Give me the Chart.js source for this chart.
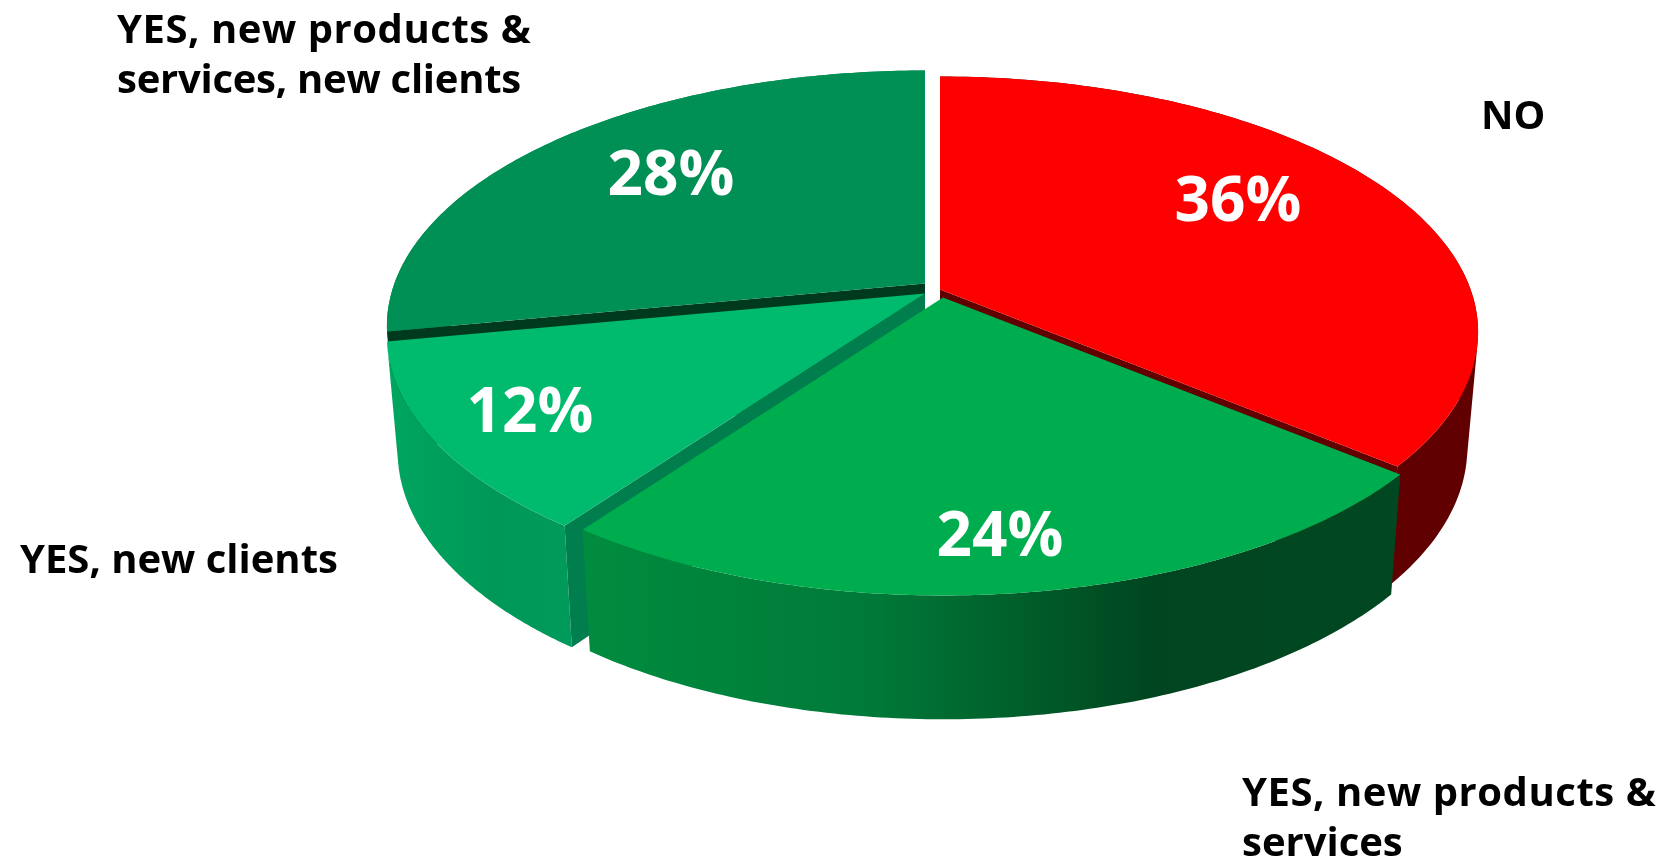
<!DOCTYPE html>
<html>
<head>
<meta charset="utf-8">
<title>Pie</title>
<script src="https://cdn.jsdelivr.net/npm/chart.js@4"></script>
<style>
  html, body { margin: 0; padding: 0; background: #fff; }
  canvas { display: block; }
</style>
</head>
<body>
<canvas id="pieChart" width="1665" height="861"></canvas>
<script>
// chart data
const categories = ['NO', 'YES, new products & services', 'YES, new clients', 'YES, new products & services, new clients'];
const shares = [36, 24, 12, 28];

// colours, same order as the data
const topColors = ['#ff0000', '#00ad4e', '#00bb6d', '#008f54'];
const wallColors = ['#600000', '#00ad4e', '#007e4d', '#003a1e'];
const sideStops = [
  [[0, '#600000'], [1, '#600000']],
  [[0, '#008c3f'], [0.35, '#007a38'], [0.7, '#00451f'], [1, '#014822']],
  [[0, '#00a65f'], [0.6, '#009858'], [1, '#009a5a']],
  [[0, '#009055'], [1, '#009055']]
];

// perspective of the pie disc, fitted by eye to the picture
const diskX = 530.6, diskY = 248.4, tilt = 0.1663;
const depth = 114, floorX = 0.98, floorY = 1.033;
const sliceOrigins = [[940, 289.5], [943, 297.5], [925, 293.5], [925, 283.5]];

// text placement
const percentSpots = [[1238, 203], [1000, 538], [530, 414], [671, 177]];
const categorySpots = [
  { x: 1481, y: 129, lines: ['NO'] },
  { x: 1242, y: 806, lines: ['YES, new products &', 'services'] },
  { x: 20, y: 573, lines: ['YES, new clients'] },
  { x: 117, y: 43, lines: ['YES, new products &', 'services, new clients'] }
];
const lineTracking = { 'YES, new products &': '0.55px', 'services, new clients': '-0.25px' };

function project(origin, angle, radius, lower) {
  const u = Math.cos(angle) * radius;
  const v = Math.sin(angle) * radius;
  const w = 1 - tilt * v;
  const x = diskX * u / w;
  const y = diskY * v / w;
  if (lower) return [origin[0] + x * floorX, origin[1] + depth + y * floorY];
  return [origin[0] + x, origin[1] + y];
}

function arcPoints(origin, start, end, lower) {
  const pts = [];
  const steps = 120;
  for (let i = 0; i <= steps; i++) {
    pts.push(project(origin, start + (end - start) * i / steps, 1, lower));
  }
  return pts;
}

function addPoly(ctx, pts) {
  pts.forEach((p, i) => (i ? ctx.lineTo(p[0], p[1]) : ctx.moveTo(p[0], p[1])));
  ctx.closePath();
}

function fillPoly(ctx, pts, fill) {
  ctx.beginPath();
  addPoly(ctx, pts);
  ctx.fillStyle = fill;
  ctx.fill();
}

function signedArea(pts) {
  let sum = 0;
  pts.forEach((p, i) => {
    const q = pts[(i + 1) % pts.length];
    sum += p[0] * q[1] - q[0] * p[1];
  });
  return sum;
}

function drawWall(ctx, origin, angle, fill) {
  fillPoly(ctx, [
    project(origin, angle, 0, false),
    project(origin, angle, 1, false),
    project(origin, angle, 1, true),
    project(origin, angle, 0, true)
  ], fill);
}

// Replaces the flat arcs of the pie with the 3D look, angles come from the chart
const pie3d = {
  id: 'pie3d',
  beforeDatasetsDraw(chart) {
    const ctx = chart.ctx;
    const arcs = chart.getDatasetMeta(0).data;
    const order = arcs.map((a, i) => i).sort((a, b) => {
      const midA = (arcs[a].startAngle + arcs[a].endAngle) / 2;
      const midB = (arcs[b].startAngle + arcs[b].endAngle) / 2;
      return Math.sin(midA) - Math.sin(midB);
    });

    order.forEach(i => {
      const arc = arcs[i];
      const origin = sliceOrigins[i];
      const top = arcPoints(origin, arc.startAngle, arc.endAngle, false);
      const low = arcPoints(origin, arc.startAngle, arc.endAngle, true);

      const xs = top.map(p => p[0]);
      const grad = ctx.createLinearGradient(Math.min(...xs), 0, Math.max(...xs), 0);
      sideStops[i].forEach(s => grad.addColorStop(s[0], s[1]));

      // outer side: all strips in one path, same winding, so no seams and a straight silhouette
      ctx.beginPath();
      for (let s = 0; s < top.length - 1; s++) {
        const quad = [top[s], top[s + 1], low[s + 1], low[s]];
        addPoly(ctx, signedArea(quad) < 0 ? quad.reverse() : quad);
      }
      ctx.fillStyle = grad;
      ctx.fill();

      // cut faces, only the ones turned to the viewer
      if (Math.cos(arc.startAngle) < -1e-6) drawWall(ctx, origin, arc.startAngle, wallColors[i]);
      if (Math.cos(arc.endAngle) > 1e-6) drawWall(ctx, origin, arc.endAngle, wallColors[i]);

      fillPoly(ctx, [project(origin, 0, 0, false)].concat(top), arc.options.backgroundColor);
    });
    return false;
  },
  afterDraw(chart) {
    const ctx = chart.ctx;
    ctx.save();
    ctx.textAlign = 'left';
    ctx.textBaseline = 'alphabetic';
    ctx.fillStyle = '#000';
    ctx.font = 'bold 40px "Open Sans"';
    categorySpots.forEach(c => {
      c.lines.forEach((line, n) => {
        ctx.letterSpacing = lineTracking[line] || '0px';
        ctx.fillText(line, c.x, c.y + n * 50);
      });
    });
    ctx.letterSpacing = '0px';
    ctx.textAlign = 'center';
    ctx.textBaseline = 'middle';
    ctx.fillStyle = '#fff';
    ctx.font = 'bold 62px "Open Sans"';
    shares.forEach((v, i) => ctx.fillText(v + '%', percentSpots[i][0], percentSpots[i][1]));
    ctx.restore();
  }
};

new Chart(document.getElementById('pieChart').getContext('2d'), {
  type: 'pie',
  data: {
    labels: categories,
    datasets: [{ data: shares, backgroundColor: topColors, borderWidth: 0 }]
  },
  options: {
    responsive: false,
    animation: false,
    plugins: {
      legend: { display: false },
      tooltip: { enabled: false }
    }
  },
  plugins: [pie3d]
});
</script>
</body>
</html>
